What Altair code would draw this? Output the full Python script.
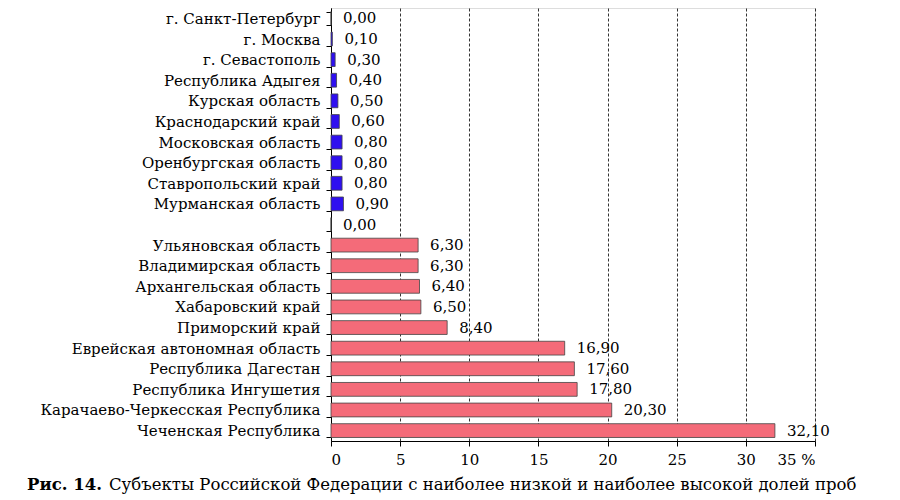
import altair as alt
import pandas as pd

regions = [
    "г. Санкт-Петербург", "г. Москва", "г. Севастополь", "Республика Адыгея",
    "Курская область", "Краснодарский край", "Московская область",
    "Оренбургская область", "Ставропольский край", "Мурманская область",
    " ",
    "Ульяновская область", "Владимирская область", "Архангельская область",
    "Хабаровский край", "Приморский край", "Еврейская автономная область",
    "Республика Дагестан", "Республика Ингушетия",
    "Карачаево-Черкесская Республика", "Чеченская Республика",
]
values = [0.0, 0.1, 0.3, 0.4, 0.5, 0.6, 0.8, 0.8, 0.8, 0.9,
          0.0,
          6.3, 6.3, 6.4, 6.5, 8.4, 16.9, 17.6, 17.8, 20.3, 32.1]
groups = ["low"] * 10 + ["blank"] + ["high"] * 10
x_ticks = [0, 5, 10, 15, 20, 25, 30, 35]
caption_bold = "Рис. 14."
caption_rest = "Субъекты Российской Федерации с наиболее низкой и наиболее высокой долей проб"

df = pd.DataFrame({"region": regions, "value": values, "group": groups})

FONT = "DejaVu Serif"

base = alt.Chart(df).encode(
    y=alt.Y("region:N", sort=regions, title=None,
            scale=alt.Scale(paddingInner=0.33, paddingOuter=0.17),
            axis=alt.Axis(labelFont=FONT, labelFontSize=15, labelColor="black",
                          tickBand="extent", tickColor="black", tickSize=5,
                          domainColor="black", labelPadding=6, grid=False,
                          labelLimit=400)),
)

bars = base.mark_bar(stroke="#444444", strokeWidth=0.8).encode(
    x=alt.X("value:Q", scale=alt.Scale(domain=[0, 35], nice=False), title=None,
            axis=alt.Axis(values=x_ticks, labelFont=FONT, labelFontSize=15,
                          labelColor="black", tickColor="black", tickSize=5,
                          domainColor="black", grid=True, gridColor="black",
                          gridDash=[3, 2], gridWidth=0.8, labelPadding=6,
                          labelExpr="datum.value == 35 ? '35 %' : datum.label")),
    color=alt.Color("group:N",
                    scale=alt.Scale(domain=["low", "blank", "high"],
                                    range=["#2f10f0", "#ffffff", "#f46b79"]),
                    legend=None),
)

labels = base.transform_calculate(
    lab="replace(format(datum.value, '.2f'), '.', ',')"
).mark_text(align="left", dx=12, font=FONT, fontSize=15, color="black").encode(
    x="value:Q", text="lab:N"
)

cap_df = pd.DataFrame({"t": [caption_bold], "u": [caption_rest]})
cap1 = alt.Chart(cap_df).mark_text(align="left", baseline="middle", font=FONT,
                                   fontSize=16.5, fontWeight="bold", color="black").encode(
    text="t:N", x=alt.value(-304), y=alt.value(477))
cap2 = alt.Chart(cap_df).mark_text(align="left", baseline="middle", font=FONT,
                                   fontSize=16.5, color="black").encode(
    text="u:N", x=alt.value(-222), y=alt.value(477))

chart = alt.layer(bars, labels, cap1, cap2).properties(
    width=484, height=433,
    autosize=alt.AutoSizeParams(type="none"),
    padding={"left": 323, "top": 0, "right": 77, "bottom": 60},
).configure_view(stroke=None).configure(background="white")

chart.save("out.html", embed_options={"renderer": "svg", "actions": False})
